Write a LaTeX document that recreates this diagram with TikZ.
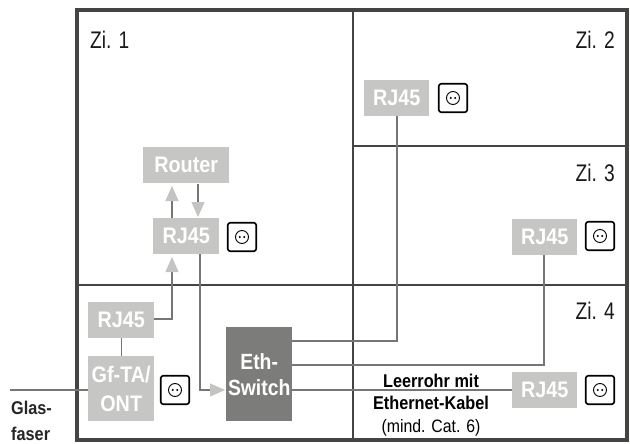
\documentclass[tikz,border=0pt]{standalone}
\usepackage{fontspec}
\setmainfont{Liberation Sans}
\newfontfamily\narrowf[FakeStretch=0.88]{Liberation Sans}
\newfontfamily\zifont[FakeStretch=0.8]{Liberation Sans}
\usetikzlibrary{arrows.meta}
\definecolor{wallc}{HTML}{444442}
\definecolor{boxc}{HTML}{C6C6C4}
\definecolor{darkc}{HTML}{7C7C7A}
\definecolor{linec}{HTML}{767674}
\definecolor{headc}{HTML}{C4C4C2}
\tikzset{
  x=1pt,y=-1pt,
  wall/.style={draw=wallc,line width=1.6pt},
  outer/.style={draw=wallc,line width=4pt},
  rj/.style={fill=boxc,text=white,font=\narrowf\fontsize{22.5}{29}\selectfont\bfseries,align=center,inner sep=0pt,anchor=north west},
  dark/.style={fill=darkc,text=white,font=\narrowf\fontsize{22}{26}\selectfont\bfseries,align=center,inner sep=0pt,anchor=north west},
  sock/.style={draw=black,line width=1.6pt,rounded corners=2.5pt,minimum width=28.5pt,minimum height=28.5pt,inner sep=0pt,fill=white},
  holes/.style={draw=black,line width=.9pt,circle,minimum size=13pt,inner sep=0pt},
  cable/.style={draw=linec,line width=1.1pt},
  arrowc/.style={cable,-{Triangle[length=15pt,width=13pt,color=headc,fill=headc]}},
  zi/.style={font=\zifont\fontsize{24}{28}\selectfont,text=black!90,inner sep=0pt},
  capt/.style={font=\narrowf\fontsize{18.5}{26}\selectfont\bfseries,inner sep=0pt},
}
\newcommand{\socket}[2]{%
  \node[sock] (#1) at (#2) {};
  \node[holes] (#1c) at (#1.center) {};
  \fill (#1c.center) ++(-2.3,0) circle (1.1pt) ++(4.6,0) circle (1.1pt);
}
\begin{document}
\begin{tikzpicture}
\useasboundingbox (0,0) rectangle (630,444);
% walls
\coordinate (tl) at (77,10); \coordinate (br) at (627,440);
\coordinate (vt) at (353,10); \coordinate (vb) at (353,440);
\coordinate (hl) at (77,285); \coordinate (hr) at (627,285);
\coordinate (mt) at (353,146); \coordinate (mr) at (627,146);
\draw[wall] (vt) -- (vb) (hl) -- (hr) (mt) -- (mr);
\draw[outer] (tl) rectangle (br);
% boxes
\node[rj,minimum width=86pt,minimum height=36pt] (router) at (143,147) {Router};
\node[rj,minimum width=66pt,minimum height=36pt] (rjmid) at (153,218) {RJ45};
\node[rj,minimum width=66pt,minimum height=36pt] (rjlow) at (88,302) {RJ45};
\node[rj,minimum width=66pt,minimum height=65pt] (ont) at (88,356) {Gf-TA/\\ONT};
\node[dark,minimum width=66pt,minimum height=94pt] (sw) at (226,327) {Eth-\\Switch};
\node[rj,minimum width=65pt,minimum height=36pt] (rj2) at (364,80) {RJ45};
\node[rj,minimum width=65pt,minimum height=36pt] (rj3) at (512,219) {RJ45};
\node[rj,minimum width=65pt,minimum height=36pt] (rj4) at (512,372) {RJ45};
\socket{s1}{242,237}
\socket{s2}{453,98}
\socket{s3}{600,236}
\socket{s4}{600,390}
\socket{s5}{175,390}
% connectors
\coordinate (fib) at (10,390);
\draw[cable] (fib) -- (ont.west |- fib);
\draw[cable] (rjlow) -- (ont);
\draw[arrowc] (rjlow.east |- 0,319) -| (172,257);
\draw[arrowc] (172,218) -- (172,186);
\draw[arrowc] (198,184) -- (198,217);
\draw[arrowc] (200,254) |- (225,390);
\draw[cable] (sw.east |- 0,341) -| (397,116);
\draw[cable] (sw.east |- 0,365) -| (544,255);
\draw[cable] (sw.east |- 0,390) -- (rj4.west |- 0,390);
% texts
\node[zi,anchor=north west] (z1) at (90,31) {Zi. 1};
\node[zi,anchor=north east] (z2) at (615,31) {Zi. 2};
\node[zi,anchor=north east] (z3) at (615,164) {Zi. 3};
\node[zi,anchor=north east] (z4) at (615,302) {Zi. 4};
\node[capt,anchor=north west,align=left,text=black!85] (gl) at (11,401) {Glas-\\faser};
\node[capt,anchor=south] (l1) at (431,388) {Leerrohr mit};
\node[capt,anchor=north] (l2) at (431,396) {Ethernet-Kabel};
\node[font=\narrowf\fontsize{18}{20}\selectfont,inner sep=0pt,anchor=north] (l3) at (431,419) {(mind. Cat. 6)};
\end{tikzpicture}
\end{document}
